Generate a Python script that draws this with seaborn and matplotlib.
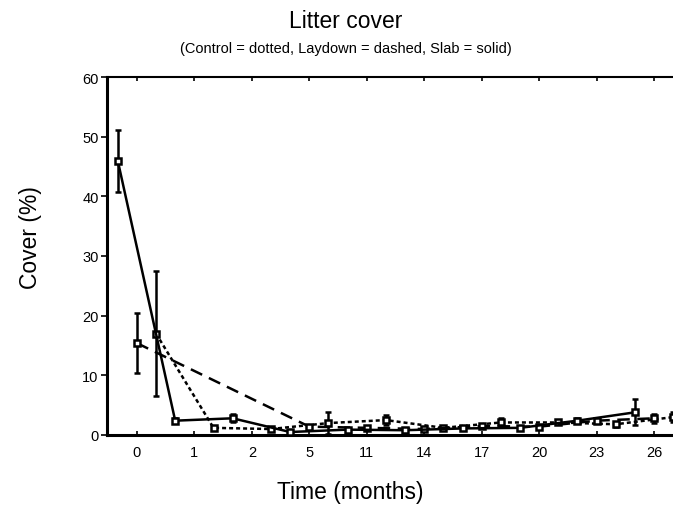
import numpy as np
import pandas as pd
import matplotlib
matplotlib.use("Agg")
import matplotlib.pyplot as plt
import seaborn as sns

# time points (months) shown as evenly spaced categories
months = ["0", "1", "2", "5", "11", "14", "17", "20", "23", "26"]

# Slab (solid)
slab_idx = [0, 1, 2, 3, 4, 5, 6, 7, 8, 9]
slab_mean = [46.0, 2.4, 2.8, 0.5, 0.9, 0.8, 1.1, 1.2, 2.4, 3.8]
slab_err = [5.2, 0.4, 0.7, 0.3, 0.3, 0.3, 0.3, 0.3, 0.4, 2.2]

# Laydown (dashed) - nothing recorded at months 1 and 2
lay_idx = [0, 3, 4, 5, 6, 7, 8, 9]
lay_mean = [15.4, 1.4, 1.2, 1.0, 1.5, 1.4, 2.4, 2.8]
lay_err = [5.0, 0.3, 0.3, 0.3, 0.3, 0.3, 0.4, 0.8]

# Control (dotted)
ctrl_idx = [0, 1, 2, 3, 4, 5, 6, 7, 8, 9]
ctrl_mean = [17.0, 1.2, 1.0, 2.0, 2.5, 1.2, 2.1, 2.1, 1.8, 3.0]
ctrl_err = [10.5, 0.3, 0.3, 1.8, 0.8, 0.3, 0.8, 0.3, 0.4, 0.8]

offsets = {"Slab": -1 / 3, "Laydown": 0.0, "Control": 1 / 3}

rows = []
for name, idx, mean, err in [("Slab", slab_idx, slab_mean, slab_err),
                             ("Laydown", lay_idx, lay_mean, lay_err),
                             ("Control", ctrl_idx, ctrl_mean, ctrl_err)]:
    for i, m, e in zip(idx, mean, err):
        rows.append({"treatment": name, "pos": i + offsets[name], "cover": m, "err": e})
df = pd.DataFrame(rows)

sns.set_style("white")
plt.rcParams["font.family"] = ["Liberation Sans", "DejaVu Sans"]
plt.rcParams["text.color"] = "black"

fig = plt.figure(figsize=(6.73, 5.06), dpi=100)
ax = fig.add_axes([107 / 673, 70 / 506, 577 / 673, 358 / 506])

# error bars first, so markers sit on top
for name, g in df.groupby("treatment"):
    ax.errorbar(g["pos"], g["cover"], yerr=g["err"], fmt="none", ecolor="black",
                elinewidth=1.8, capsize=2.5, capthick=1.8, zorder=2)

sns.lineplot(data=df, x="pos", y="cover", style="treatment",
             style_order=["Control", "Laydown", "Slab"],
             dashes={"Control": (1.6, 1.2), "Laydown": (5, 3), "Slab": ""},
             markers={"Control": "s", "Laydown": "s", "Slab": "s"},
             color="black", linewidth=1.8, markersize=5,
             markerfacecolor="white", markeredgecolor="black", markeredgewidth=1.8,
             estimator=None, errorbar=None, legend=False, ax=ax, zorder=3)

ax.set_xlim(-0.52, 9.52)
ax.set_ylim(0, 60)
ax.set_xticks(range(len(months)))
ax.set_xticklabels(months)
ax.set_yticks(range(0, 61, 10))
ax.set_xlabel("")
ax.set_ylabel("")

for s in ["left", "bottom"]:
    ax.spines[s].set_linewidth(2.2)
    ax.spines[s].set_color("black")
ax.spines["top"].set_linewidth(1.5)
ax.spines["top"].set_color("black")
ax.spines["right"].set_visible(False)

ax.tick_params(axis="x", which="both", direction="in", length=3, width=1.2,
               top=True, bottom=True, labelsize=10.5, pad=7, colors="black")
ax.tick_params(axis="y", direction="out", length=4, width=1.2, left=True,
               labelsize=10.5, pad=2, colors="black")

fig.text(0.514, 0.957, "Litter cover", ha="center", va="center", fontsize=16.5)
fig.text(0.514, 0.903, "(Control = dotted, Laydown = dashed, Slab = solid)",
         ha="center", va="center", fontsize=10.5)
fig.text(0.52, 0.026, "Time (months)", ha="center", va="center", fontsize=16.5)
fig.text(0.045, 0.53, "Cover (%)", ha="center", va="center", rotation=90, fontsize=16.5)

fig.savefig("out.png", dpi=100)
